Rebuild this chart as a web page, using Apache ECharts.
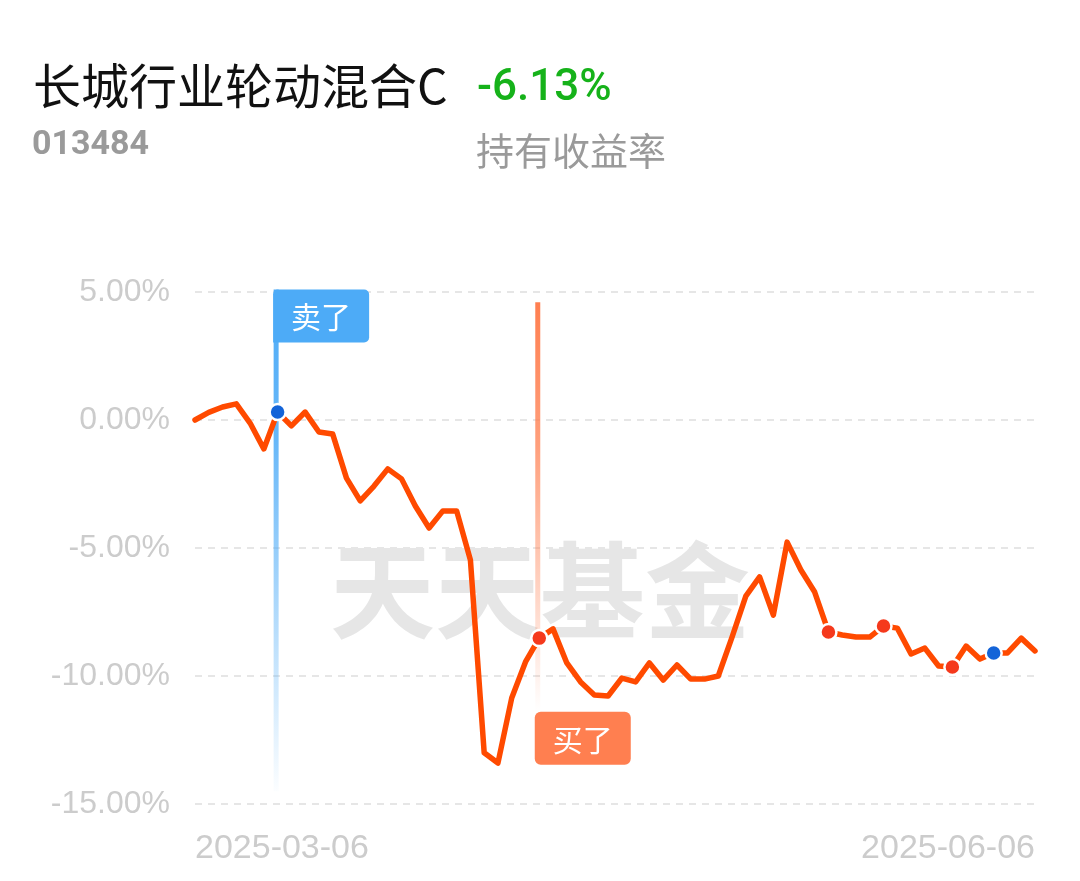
<!DOCTYPE html>
<html>
<head>
<meta charset="utf-8">
<script src="https://cdn.jsdelivr.net/npm/echarts@6/dist/echarts.min.js"></script>
<style>
html,body{margin:0;padding:0;background:#fff;}
#chart{width:1080px;height:881px;}
</style>
</head>
<body>
<div id="chart"></div>
<script>
// ---- data ----
const fundName = '长城行业轮动混合C';
const fundCode = '013484';
const holdReturn = '-6.13%';
const holdReturnLabel = '持有收益率';
const watermark = '天天基金';

const dates = [
  '2025-03-06','2025-03-07','2025-03-10','2025-03-11','2025-03-12','2025-03-13','2025-03-14',
  '2025-03-17','2025-03-18','2025-03-19','2025-03-20','2025-03-21',
  '2025-03-24','2025-03-25','2025-03-26','2025-03-27','2025-03-28','2025-03-31',
  '2025-04-01','2025-04-02','2025-04-03','2025-04-07','2025-04-08','2025-04-09','2025-04-10','2025-04-11',
  '2025-04-14','2025-04-15','2025-04-16','2025-04-17','2025-04-18',
  '2025-04-21','2025-04-22','2025-04-23','2025-04-24','2025-04-25',
  '2025-04-28','2025-04-29','2025-04-30',
  '2025-05-06','2025-05-07','2025-05-08','2025-05-09',
  '2025-05-12','2025-05-13','2025-05-14','2025-05-15','2025-05-16',
  '2025-05-19','2025-05-20','2025-05-21','2025-05-22','2025-05-23',
  '2025-05-26','2025-05-27','2025-05-28','2025-05-29','2025-05-30',
  '2025-06-03','2025-06-04','2025-06-05','2025-06-06'
];

const returns = [
  0.00, 0.30, 0.51, 0.63, -0.12, -1.13, 0.31, -0.23, 0.31, -0.47,
  -0.55, -2.27, -3.16, -2.58, -1.91, -2.30, -3.36, -4.22, -3.55, -3.55,
  -5.47, -13.00, -13.40, -10.86, -9.45, -8.52, -8.16, -9.49, -10.23, -10.74,
  -10.78, -10.08, -10.23, -9.49, -10.16, -9.57, -10.12, -10.12, -10.00, -8.48,
  -6.88, -6.13, -7.62, -4.77, -5.86, -6.72, -8.28, -8.40, -8.48, -8.48,
  -8.05, -8.13, -9.14, -8.91, -9.61, -9.65, -8.83, -9.34, -9.10, -9.10,
  -8.52, -9.02
];

const yTicks = [-15, -10, -5, 0, 5];
const sellIdx = [6, 58];
const buyIdx = [25, 46, 50, 55];

// flag markers: category index, top value, bottom value, label
const flagIdx = [6, 25];
const flagTop = [5.1, 4.6];
const flagBottom = [-14.5, -11.4];
const flagText = ['卖了', '买了'];
const flagKind = ['sell', 'buy'];

// ---- chart ----
const chart = echarts.init(document.getElementById('chart'), null, {renderer: 'canvas'});
const CJK = '"Noto Sans CJK SC", "Noto Sans", sans-serif';
const LAT = '"Liberation Sans", Arial, sans-serif';

const sellData = sellIdx.map(i => [i, returns[i]]);
const buyData = buyIdx.map(i => [i, returns[i]]);
const flagData = flagIdx.map((i, k) => [i, flagTop[k], flagBottom[k]]);

const option = {
  animation: false,
  backgroundColor: '#ffffff',
  grid: {left: 195, right: 45, top: 292, bottom: 77, containLabel: false},
  xAxis: {
    type: 'category',
    data: dates,
    boundaryGap: false,
    axisLine: {show: false},
    axisTick: {show: false},
    splitLine: {show: false},
    axisLabel: {
      interval: (i) => i === 0 || i === dates.length - 1,
      showMinLabel: true,
      showMaxLabel: true,
      alignMinLabel: 'left',
      alignMaxLabel: 'right',
      color: '#cccccc',
      fontSize: 34,
      fontFamily: LAT,
      margin: 28
    }
  },
  yAxis: {
    type: 'value',
    min: yTicks[0],
    max: yTicks[yTicks.length - 1],
    interval: 5,
    axisLine: {show: false},
    axisTick: {show: false},
    axisLabel: {
      formatter: v => v.toFixed(2) + '%',
      color: '#cccccc',
      fontSize: 32,
      fontFamily: LAT,
      margin: 25
    },
    splitLine: {
      show: true,
      lineStyle: {color: '#e6e6e6', width: 2, type: [7, 6]}
    }
  },
  graphic: [
    {type: 'text', z: 1, left: 'center', top: 538,
      style: {text: watermark, fontSize: 105, fontWeight: 'bold', fontFamily: CJK, fill: '#e6e6e6'}},
    {type: 'text', z: 10, x: 33, y: 86,
      style: {text: fundName, fontSize: 48, fontFamily: CJK, fill: '#111111', textVerticalAlign: 'middle'}},
    {type: 'text', z: 10, x: 477, y: 89,
      style: {text: holdReturn, fontSize: 44, fontWeight: 500, fontFamily: 'Roboto, sans-serif', fill: '#16b21a', textVerticalAlign: 'middle'}},
    {type: 'text', z: 10, x: 32, y: 145,
      style: {text: fundCode, fontSize: 34, fontWeight: 'bold', fontFamily: 'Roboto, sans-serif', fill: '#9a9a9a', textVerticalAlign: 'middle'}},
    {type: 'text', z: 10, x: 476, y: 151,
      style: {text: holdReturnLabel, fontSize: 38, fontFamily: CJK, fill: '#9a9a9a', textVerticalAlign: 'middle'}}
  ],
  series: [
    {
      type: 'custom',
      z: 2,
      data: flagData,
      renderItem: function (params, api) {
        const k = params.dataIndex;
        const idx = api.value(0);
        const x = api.coord([idx, 0])[0] - 1.5;
        const top = api.coord([idx, api.value(1)])[1];
        const bottom = api.coord([idx, api.value(2)])[1];
        const isSell = flagKind[k] === 'sell';
        const rgb = isSell ? '77,171,247' : '255,127,80';
        const lw = 5;
        const boxW = 96, boxH = 53;
        const boxX = x - lw / 2 - 0.5;
        const boxY = isSell ? top : bottom;
        const grad = isSell
          ? new echarts.graphic.LinearGradient(0, 0, 0, 1, [
              {offset: 0, color: 'rgba(' + rgb + ',1)'},
              {offset: 0.3, color: 'rgba(' + rgb + ',0.85)'},
              {offset: 1, color: 'rgba(' + rgb + ',0.02)'}])
          : new echarts.graphic.LinearGradient(0, 0, 0, 1, [
              {offset: 0, color: 'rgba(' + rgb + ',1)'},
              {offset: 0.35, color: 'rgba(' + rgb + ',0.75)'},
              {offset: 1, color: 'rgba(' + rgb + ',0.0)'}]);
        return {
          type: 'group',
          children: [
            {type: 'rect', shape: {x: x - lw / 2, y: top, width: lw, height: bottom - top},
              style: {fill: grad}},
            {type: 'rect', z2: 50,
              shape: {x: boxX, y: boxY, width: boxW, height: boxH, r: isSell ? [5, 5, 5, 0] : 6},
              style: {fill: 'rgb(' + rgb + ')'}},
            {type: 'text', z2: 60,
              style: {text: flagText[k], x: boxX + boxW / 2, y: boxY + boxH / 2 + 1,
                textAlign: 'center', textVerticalAlign: 'middle',
                fontSize: 30, fontFamily: CJK, fill: '#ffffff'}}
          ]
        };
      }
    },
    {
      type: 'line',
      z: 3,
      data: returns,
      symbol: 'none',
      lineStyle: {color: '#ff4a00', width: 5.5, join: 'round', cap: 'round'}
    },
    {
      type: 'scatter',
      z: 5,
      data: sellData,
      symbol: 'circle',
      symbolSize: 16,
      itemStyle: {color: '#1464d8', borderColor: '#ffffff', borderWidth: 2.5, opacity: 1}
    },
    {
      type: 'scatter',
      z: 5,
      data: buyData,
      symbol: 'circle',
      symbolSize: 16,
      itemStyle: {color: '#f5391c', borderColor: '#ffffff', borderWidth: 2.5, opacity: 1}
    }
  ]
};
chart.setOption(option);
</script>
</body>
</html>
